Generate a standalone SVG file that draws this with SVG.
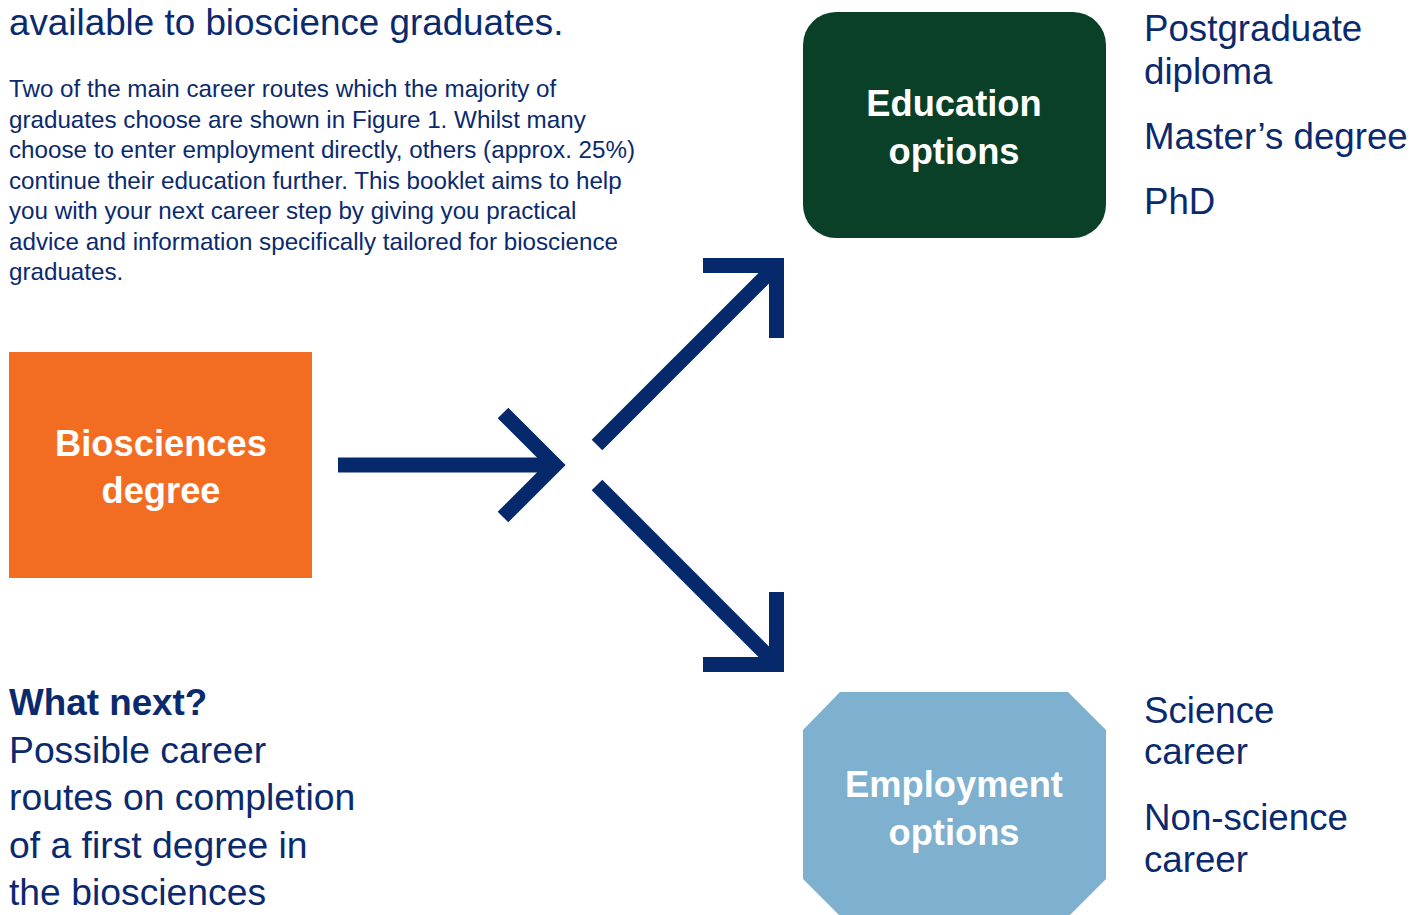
<svg xmlns="http://www.w3.org/2000/svg" width="1411" height="915" viewBox="0 0 1411 915">
<style>
  .t { font-family: "Liberation Sans", Arial, sans-serif; fill: #0B2A6E; }
  .h { font-size: 36.8px; }
  .c { font-size: 37.3px; }
  .p { font-size: 24.2px; }
  .side { font-size: 36.7px; }
  .b { font-weight: bold; }
  .lbl { font-family: "Liberation Sans", Arial, sans-serif; font-weight: bold; font-size: 36.3px; fill: #FFFFFF; text-anchor: middle; }
  .arr { fill: none; stroke: #06296B; stroke-width: 15; stroke-linecap: butt; stroke-linejoin: miter; stroke-miterlimit: 10; }
</style>
<rect width="1411" height="915" fill="#FFFFFF"/>

<g id="intro-text">
  <text class="t h" x="9" y="35">available to bioscience graduates.</text>
  <text class="t p" x="9" y="97">Two of the main career routes which the majority of</text>
  <text class="t p" x="9" y="127.5">graduates choose are shown in Figure 1. Whilst many</text>
  <text class="t p" x="9" y="158">choose to enter employment directly, others (approx. 25%)</text>
  <text class="t p" x="9" y="188.5">continue their education further. This booklet aims to help</text>
  <text class="t p" x="9" y="219">you with your next career step by giving you practical</text>
  <text class="t p" x="9" y="249.5">advice and information specifically tailored for bioscience</text>
  <text class="t p" x="9" y="280">graduates.</text>
</g>

<g id="caption-text">
  <text class="t h b" x="9" y="715">What next?</text>
  <text class="t c" x="9" y="762.5">Possible career</text>
  <text class="t c" x="9" y="810">routes on completion</text>
  <text class="t c" x="9" y="857.5">of a first degree in</text>
  <text class="t c" x="9" y="905">the biosciences</text>
</g>

<g id="node-biosciences">
  <rect x="9" y="352" width="303" height="226" fill="#F26C22"/>
  <text class="lbl" x="161" y="456">Biosciences</text>
  <text class="lbl" x="161" y="503">degree</text>
</g>

<g id="node-education">
  <rect x="803" y="12" width="303" height="226" rx="33" ry="33" fill="#0A4027"/>
  <text class="lbl" x="954" y="116">Education</text>
  <text class="lbl" x="954" y="164">options</text>
</g>

<g id="node-employment">
  <polygon points="840,692 1068,692 1106,730 1106,879 1069,916 840,916 803,879 803,730" fill="#7EB0CF"/>
  <text class="lbl" x="954" y="797">Employment</text>
  <text class="lbl" x="954" y="845">options</text>
</g>

<g id="education-list">
  <text class="t side" x="1144" y="41">Postgraduate</text>
  <text class="t side" x="1144" y="84">diploma</text>
  <text class="t side" x="1144" y="149">Master’s degree</text>
  <text class="t side" x="1144" y="214">PhD</text>
</g>

<g id="employment-list">
  <text class="t side" x="1144" y="723">Science</text>
  <text class="t side" x="1144" y="764">career</text>
  <text class="t side" x="1144" y="830">Non-science</text>
  <text class="t side" x="1144" y="872">career</text>
</g>

<g id="connectors">
  <line class="arr" x1="338" y1="465" x2="552" y2="465"/>
  <polyline class="arr" points="503,413 555,465 503,517"/>
  <line class="arr" x1="597" y1="445" x2="776" y2="266"/>
  <polyline class="arr" points="703,265.5 776.5,265.5 776.5,338"/>
  <line class="arr" x1="597" y1="485" x2="776" y2="664"/>
  <polyline class="arr" points="776.5,592 776.5,664.5 703,664.5"/>
</g>
</svg>
